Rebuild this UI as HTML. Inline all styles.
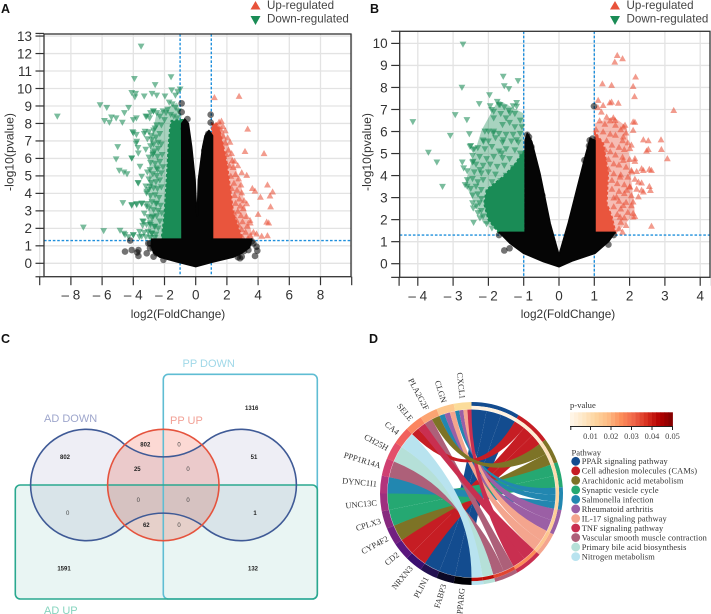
<!DOCTYPE html>
<html lang="en">
<head>
<meta charset="utf-8">
<title>Volcano plots, Venn diagram and chord diagram</title>
<style>
html,body{margin:0;padding:0;background:#fff;width:711px;height:614px;overflow:hidden}
svg{display:block}
text{font-family:"Liberation Sans",sans-serif}
.serif{font-family:"Liberation Serif",serif}
.mult{mix-blend-mode:multiply}
</style>
</head>
<body>
<svg id="fig" width="711" height="614" viewBox="0 0 711 614" xmlns="http://www.w3.org/2000/svg" style="filter:blur(.35px)">
<rect width="711" height="614" fill="#fff"/>
<text x="1" y="13" font-size="12.5" font-weight="bold" fill="#111">A</text>
<text x="370" y="13" font-size="12.5" font-weight="bold" fill="#111">B</text>
<text x="1" y="343" font-size="12.5" font-weight="bold" fill="#111">C</text>
<text x="369" y="343" font-size="12.5" font-weight="bold" fill="#111">D</text>

<g id="panelA"></g>
<g id="panelB"></g>

<g id="venn">
  <rect class="mult" x="15.3" y="485" width="302" height="114" rx="5" fill="#e9f5f3"/>
  <path class="mult" d="M124,444 A67,67 0 0 0 203,444 A55.7,55.7 0 1 1 203,526 A67,67 0 0 0 124,526 A55.7,55.7 0 1 1 124,444 Z" fill="#eeeef5"/>
  <circle class="mult" cx="163.3" cy="485" r="55.7" fill="#fcd9d4"/>
  <rect x="163.3" y="374.3" width="154" height="224.7" rx="5" fill="none" stroke="#5fbdd3" stroke-width="1.6"/>
  <rect x="15.3" y="485" width="302" height="114" rx="5" fill="none" stroke="#2aa88f" stroke-width="1.6"/>
  <path d="M124,444 A67,67 0 0 0 203,444 A55.7,55.7 0 1 1 203,526 A67,67 0 0 0 124,526 A55.7,55.7 0 1 1 124,444 Z" fill="none" stroke="#3f5a96" stroke-width="1.6"/>
  <circle cx="163.3" cy="485" r="55.7" fill="none" stroke="#e5533d" stroke-width="1.6"/>
  <text x="44" y="422" font-size="11" fill="#9ea6cc">AD DOWN</text>
  <text x="170" y="424" font-size="11" fill="#f2a196">PP UP</text>
  <text x="182.5" y="367" font-size="11" fill="#a0d8e8">PP DOWN</text>
  <text x="44" y="614" font-size="11" fill="#85d4be">AD UP</text>
  <g font-size="6" text-anchor="middle" font-weight="bold" fill="#222">
    <text x="251.7" y="410">1316</text>
    <text x="145.3" y="446.5">802</text>
    <text x="65" y="459">802</text>
    <text x="254" y="459">51</text>
    <text x="137.3" y="471">25</text>
    <text x="255" y="515">1</text>
    <text x="146.3" y="527">62</text>
    <text x="64" y="570.5">1591</text>
    <text x="253" y="570.5">132</text>
  </g>
  <g font-size="6" text-anchor="middle" fill="#444">
    <text x="179" y="446.5">0</text>
    <text x="188" y="471">0</text>
    <text x="138.3" y="502">0</text>
    <text x="188" y="502">0</text>
    <text x="67.7" y="515">0</text>
    <text x="179" y="527">0</text>
  </g>
</g>

<g id="chord"></g>
<g id="chordLegend"></g>
</svg>

<script>
// ===== Panel A data (log2 fold change, -log10 p) =====
const aXTicks = [-10,-8,-6,-4,-2,0,2,4,6,8,10];
const aYTicks = [0,1,2,3,4,5,6,7,8,9,10,11,12,13];
const aDownPoints = [[-3.5,12.4],[-3.93,10.55],[-1.58,10.65],[-2.6,10.2],[-1.0,9.95],[-1.54,9.9],[-1.15,9.8],[-4.1,9.75],[-3.85,9.7],[-2.8,9.7],[-2.5,9.6],[-1.97,9.55],[-3.3,9.55],[-3.9,9.5],[-1.3,9.6],
[-6.13,9.05],[-5.7,8.9],[-4.3,8.9],[-8.87,8.4],[-5.85,8.15],[-5.53,8.05],[-5.4,8.35],[-5.1,8.3],[-4.7,8.05],[-4.57,8.6],[-4,8.2],[-3.8,8.3],[-4.04,7.5],[-3.8,7.35],[-3.82,6.85],[-5,6.65],[-5.1,5.95],[-4.1,6],[-3.7,6.6],[-4.9,5.3],[-4.6,5.2],[-4.4,5.1],[-3.7,4.6],[-4.67,3.45],[-4.1,3.3],[-3.8,3.4],[-3.46,3.4],[-3.14,3.4],[-7.2,2.05],[-5.9,1.85],[-4.85,1.87],[-4.6,1.7],[-4,1.6],[-4.3,1.5],[-3.4,2.4],
[-2.9,8.6],[-2.7,8.7],[-2.5,8.6],[-3.2,8.4],[-2.95,8.3],[-2.3,8.4],[-2.1,8.7],[-1.9,8.6],[-1.7,9.2],[-1.5,9.1],[-1.3,8.9],[-1.1,8.7],[-1.8,8.8],[-1.6,8.5],[-1.4,8.4],[-1.2,8.3],[-2.0,8.2],[-2.2,7.9],[-2.5,7.9],[-2.7,7.6],[-3.0,7.5],[-3.3,7.4],[-2.85,7.3],[-2.55,7.2],[-2.3,7.4],[-3.1,7.1],[-2.4,6.9],[-2.7,6.8],[-2.9,6.7],[-3.2,6.5],[-2.65,6.4],[-2.4,6.55],[-2.2,6.8],[-2.75,6.2],[-2.45,6.1],[-2.15,6.2],[-3.0,6.05],[-2.9,5.75],[-2.6,5.7],[-2.3,5.8],[-2.1,5.5],[-2.45,5.35],[-3.1,5.2],[-2.75,5.1],[-2.5,5.0],[-2.2,5.15],[-3.0,4.8],[-2.85,4.6],[-2.55,4.65],[-2.3,4.75],[-3.2,4.4],[-3.0,4.2],[-2.7,4.3],[-2.45,4.25],[-2.2,4.35],[-3.15,4.0],[-2.9,3.85],[-2.6,3.9],[-2.35,3.75],[-2.8,3.5],[-2.55,3.4],[-2.25,3.3],[-3.0,3.15],[-2.7,3.05],[-2.4,3.0],[-3.3,2.85],[-3.05,2.65],[-2.8,2.6],[-2.5,2.7],[-2.3,2.4],[-3.4,2.15],[-3.15,2.2],[-2.9,2.2],[-2.65,2.1],[-2.4,2.0],[-3.6,1.8],[-3.3,1.75],[-3.05,1.8],[-2.8,1.7],[-2.55,1.65],[-3.2,1.5],[-2.9,1.45],[-2.6,1.45],[-3.6,1.5],
[-4.0,7.44],[-3.78,6.96],[-3.68,6.29],[-4.1,6.0],[-3.14,8.39],[-3.25,7.53],[-2.72,8.68],[-2.61,7.72],[-2.82,7.05],[-2.72,6.29],[-2.5,5.43],[-2.93,5.34],[-3.57,5.53],[-3.46,4.96],[-3.68,4.57],[-2.93,4.38],[-3.14,4.1],[-4.1,3.34],[-3.78,3.34],[-3.46,3.43],[-3.14,3.24],[-2.5,3.43],[-2.18,2.86],[-2.72,2.67],[-2.93,2.29],[-3.35,2.38],[-2.61,2.1],[-4.53,1.62],[-4.0,1.62],[-3.46,1.53],[-2.82,1.72]];
const aUpPoints = [[1.2,9.5],[2.78,9.57],[3.33,7.7],[3.16,6.42],[4.38,6.3],[2.95,5.2],[3.27,5.05],[4.6,4.5],[3.63,4.3],[3.8,4.15],[4.93,4.1],[4.15,3.8],[4.76,3.87],[4.8,3.25],[3.27,3.43],[4,2.82],[3.48,2.48],[3.5,2.33],[4.55,2.38],[4.68,2.33],[3.7,1.8],[4.23,1.57],[4.6,1.6],[3.9,1.7],
[1.5,8.1],[1.65,8.15],[1.35,7.9],[1.75,7.85],[1.9,7.6],[1.55,7.7],[2.05,7.2],[1.75,7.3],[2.2,6.95],[1.9,6.9],[1.65,6.75],[2.1,6.5],[2.3,6.3],[1.95,6.25],[2.35,5.9],[2.5,5.85],[2.15,5.6],[2.4,5.5],[2.7,5.6],[2.55,5.1],[2.25,5.0],[2.75,4.85],[2.45,4.6],[2.9,4.5],[2.3,4.3],[2.65,4.2],[2.95,4.05],[2.5,3.9],[2.8,3.7],[3.1,3.6],[2.55,3.45],[2.85,3.3],[3.05,3.15],[2.7,3.0],[2.45,2.9],[2.9,2.75],[3.25,2.7],[2.6,2.5],[3.0,2.4],[2.75,2.2],[3.3,2.15],[2.55,2.05],[2.95,1.95],[3.2,1.8],[2.7,1.7],[3.5,1.6],[3.0,1.5],[2.6,1.5],[3.35,1.45]];
const aDenseDown = [[-0.85,1.3],[-2.2,1.3],[-2.0,2.8],[-1.86,4.77],[-1.75,6.5],[-1.65,7.63],[-1.55,8.15],[-0.85,8.2]];
const aDenseUp = [[1.05,1.3],[3.05,1.3],[2.75,2],[2.4,2.9],[2.25,4],[2.0,5.7],[1.55,7.6],[1.3,8],[1.05,8]];
const aHazeDown = [[-2.0,1.35],[-3.1,1.4],[-3.0,3],[-3.0,5],[-2.9,7],[-2.5,8.6],[-1.2,9.2],[-0.9,8.5]];
const aHazeUp = [[1.05,7.9],[1.6,8.1],[2.3,6.2],[2.9,4.5],[3.3,2.7],[3.7,1.4],[1.05,1.35]];
const aBlackBody = [[-2.82,1.38],[-0.88,1.38],[-0.9,8.0],[-0.7,8.25],[-0.47,8.0],[-0.26,6.67],[-0.04,4.77],[0.06,2.9],[0.1,2.7],[0.17,4.77],[0.45,6.67],[0.6,7.3],[0.85,7.6],[1.08,7.3],[1.08,1.38],[3.6,1.38],[3.45,0.9],[2.9,0.55],[2.4,0.35],[1.13,0.08],[0,-0.19],[-1.2,0.08],[-2.3,0.35],[-2.7,0.6],[-2.85,1.0]];
const aGreyPoints = [[-4.2,1.3],[-4.53,0.67],[-4.1,0.76],[-3.67,0.76],[-3.75,0.62],[-3.67,0.42],[-3.14,0.57],[-2.7,0.38],[-2.93,1.14],[-2.75,0.9],[-2.07,0.2],[-2.55,0.7],[3.9,0.95],[3.8,0.42],[3.95,0.72],[2.95,0.38],[3.38,1.14],[3.6,1.25],[3.1,0.7],[2.7,0.35],[-0.9,9.15],[-0.9,8.65],[-0.53,8.25],[-0.58,7.44],[0.96,8.5],[0.96,8.05],[0.8,7.4],[-0.75,7.7],[0.55,6.45],[-3.04,1.14],[-2.93,0.86],[-2.5,0.57],[2.84,0.29],[3.38,0.76],[3.7,1.14]];

// ===== Panel B data =====
const bXTicks = [-4,-3,-2,-1,0,1,2,3,4];
const bYTicks = [0,1,2,3,4,5,6,7,8,9,10];
const bDownPoints = [[-2.72,9.95],[-1.58,8.49],[-1.16,8.29],[-2.75,7.99],[-1.55,8.06],[-1.42,7.93],[-1.97,7.65],[-2.26,7.25],[-2.94,6.75],[-2.61,6.52],[-4.14,6.43],[-3.08,5.81],[-2.54,5.88],[-3.7,5.04],[-3.46,4.6],[-2.74,4.6],[-2.7,4.33],[-3.3,3.49],[-2.42,1.86],
[-1.75,7.35],[-1.7,7.2],[-1.95,7.15],[-1.55,7.1],[-1.3,7.15],[-1.2,7.3],[-1.42,6.95],[-1.85,6.9],[-1.65,6.8],[-1.25,6.8],[-1.85,6.6],[-1.5,6.6],[-1.4,6.4],[-1.1,6.5],[-1.6,6.3],[-1.25,6.2],[-1.05,6.2],[-2.0,6.0],[-1.85,6.0],[-1.7,5.9],[-1.5,5.85],[-1.3,5.85],[-1.1,5.9],[-2.15,5.6],[-2.0,5.55],[-1.8,5.7],[-1.6,5.5],[-1.35,5.55],[-1.15,5.5],[-2.5,5.35],[-2.4,5.2],[-2.3,5.25],[-2.1,5.2],[-1.9,5.3],[-1.7,5.1],[-1.5,5.2],[-1.25,5.15],[-1.1,5.0],[-2.45,4.9],[-2.25,4.85],[-2.05,4.75],[-1.85,4.85],[-1.6,4.8],[-1.4,4.75],[-2.45,4.6],[-2.35,4.5],[-2.15,4.45],[-1.95,4.5],[-1.75,4.4],[-1.55,4.45],[-1.3,4.35],[-2.6,4.2],[-2.4,4.15],[-2.2,4.1],[-2.0,4.15],[-1.8,4.05],[-1.5,4.0],[-2.6,3.8],[-2.45,3.85],[-2.3,3.7],[-2.15,3.8],[-1.9,3.7],[-1.65,3.75],[-2.6,3.5],[-2.5,3.4],[-2.35,3.5],[-2.2,3.35],[-2.45,3.1],[-2.3,3.15],[-2.2,2.95],[-2.45,2.75],[-2.35,2.6],[-2.25,2.75],[-2.3,2.3],[-2.2,2.4],[-2.15,2.15],[-2.05,1.8],[-1.9,1.6],
[-2.43,5.16],[-2.52,5.31],[-1.91,6.98],[-1.67,7.2],[-1.39,6.83],[-1.2,7.13],[-2.1,6.0],[-1.86,5.92],[-1.58,5.61],[-1.2,5.61],[-2.14,5.54],[-1.62,5.01],[-2.43,4.63],[-2.24,4.25],[-2.66,3.57],[-2.43,2.51],[-2.24,2.06]];
const bUpPoints = [[1.65,9.47],[1.8,9.32],[1.58,9.17],[2.17,8.49],[1.23,8.18],[1.49,8.11],[2.1,8.06],[2.14,7.6],[1.11,7.43],[1.49,7.35],[1.44,7.32],[1.68,7.3],[3.25,6.97],[1.2,6.9],[1.35,6.67],[1.54,6.64],[2.15,6.44],[1.87,6.3],[2.1,6.07],[2.39,5.64],[2.89,5.64],[2.53,5.6],[2.9,5.2],[2.53,5.2],[2.48,5.13],[3.07,4.78],[2.15,4.66],[2.39,4.25],[2.62,4.25],[2.56,4.3],[2.34,3.68],[2.56,3.52],[2.59,3.34],[2.39,3.27],[2.15,2.16],[2.62,1.72],
[1.1,7.1],[1.25,7.2],[1.15,6.5],[1.3,6.35],[1.45,6.5],[1.6,6.3],[1.75,6.1],[1.9,5.95],[1.05,6.1],[1.25,6.0],[1.45,5.9],[1.6,5.85],[1.8,5.6],[1.95,5.5],[1.35,5.6],[1.5,5.4],[1.7,5.3],[1.85,5.2],[2.05,5.4],[1.3,5.2],[1.45,5.1],[1.6,4.95],[1.8,4.85],[2.0,4.75],[1.4,4.75],[1.55,4.55],[1.7,4.5],[1.9,4.4],[2.05,4.25],[2.2,4.2],[1.4,4.3],[1.55,4.1],[1.75,4.05],[1.95,3.95],[2.15,3.85],[1.5,3.8],[1.65,3.65],[1.85,3.6],[2.0,3.5],[2.2,3.4],[1.5,3.4],[1.7,3.3],[1.85,3.2],[2.05,3.1],[2.25,3.05],[1.55,3.0],[1.7,2.85],[1.9,2.8],[2.05,2.65],[1.55,2.6],[1.75,2.5],[1.95,2.35],[2.1,2.3],[1.65,2.25],[1.85,2.1],[1.75,1.9],[1.9,1.75],[1.7,1.6],[1.8,1.45],
[1.59,6.52],[1.82,6.22],[2.1,6.45],[1.82,5.77],[2.01,5.24],[2.15,4.78],[2.34,4.33],[2.06,4.18],[2.25,3.72],[1.82,4.71],[1.73,3.95],[1.92,3.35],[2.1,2.82],[1.82,2.66],[2.1,2.13],[1.73,2.13],[1.63,3.04],[2.34,3.35],[2.01,3.5]];
const bDenseDown = [[-0.98,1.4],[-1.7,1.4],[-2.0,2.0],[-2.12,2.74],[-2.05,3.35],[-1.58,3.95],[-1.25,4.5],[-1.05,5.0],[-0.98,5.1]];
const bDenseUp = [[1.02,1.4],[1.6,1.4],[1.5,2.1],[1.35,2.74],[1.39,4.1],[1.25,5.46],[1.02,5.95]];
const bHazeDown = [[-1.72,7.43],[-1.01,6.83],[-1.01,1.4],[-2.14,1.83],[-2.66,3.65],[-2.43,4.86],[-2.19,6.07]];
const bHazeUp = [[1.02,6.37],[1.54,6.67],[1.92,6.22],[2.01,4.4],[2.15,2.29],[1.63,1.38],[1.02,1.38]];
const bBlackBody = [[-1.69,1.42],[-0.96,1.42],[-0.96,5.6],[-0.9,5.92],[-0.77,5.54],[-0.54,4.1],[-0.25,1.83],[0,0.39],[0.26,1.83],[0.5,3.35],[0.74,4.86],[0.88,5.68],[1.02,5.6],[1.02,1.42],[1.59,1.42],[1.4,1.0],[1.02,0.47],[0.4,0.14],[0,-0.14],[-0.44,0.09],[-1,0.47],[-1.39,0.93]];
const bGreyPoints = [[-1.55,0.6],[-1.4,0.7],[-0.78,5.3],[-0.9,5.85],[-0.85,5.75],[-0.65,4.3],[-0.7,4.35],[-0.47,3.1],[0.99,7.15],[0.95,5.68],[0.87,5.6],[0.85,5.35],[0.72,4.7],[1.4,0.87],[1.55,1.3],[-1.7,1.3]];

// ===== Panel D data =====
const geneNames = ["PPARG","FABP3","PLIN1","NRXN3","CD2","CYP4F2","CPLX3","UNC13C","DYNC1I1","PPP1R14A","CH25H","CA4","SELE","PLA2G2F","CLGN","CXCL1"];
const geneColors = ["#000004","#0c0926","#231151","#3b0f70","#5a167e","#721f81","#87297f","#9e2f7f","#b2347c","#cf4071","#e34f6a","#f1605d","#fb8560","#fca472","#fdc78d","#fbdc9a"];
const pathwayNames = ["PPAR signaling pathway","Cell adhesion molecules (CAMs)","Arachidonic acid metabolism","Synaptic vesicle cycle","Salmonella infection","Rheumatoid arthritis","IL-17 signaling pathway","TNF signaling pathway","Vascular smooth muscle contraction","Primary bile acid biosynthesis","Nitrogen metabolism"];
const pathwayColors = ["#134c8f","#c61d24","#7d7326","#25a872","#2287b0","#9b5fa5","#f4a58e","#c92f50","#ad6079","#b5e0d8","#b8e3ef"];
const pathwayShares = [31,23,16,16,14.5,16,15.5,18,15,7.5,7.5];
const pathwayPvalues = [0.002,0.004,0.008,0.010,0.012,0.014,0.016,0.025,0.035,0.042,0.042];
const linkGenes =    [0,1,2,3,4,5,6,7,8,9,10,11,13,14,14,14,15,15,15,15,12,12,13];
const linkPathways = [0,0,0,1,1,2,3,3,4,8,9,10,8,4,5,6,4,5,6,7,1,7,2];
const pTickValues = [0.01,0.02,0.03,0.04,0.05];
const pScaleStops = ["#fff7ec","#fee8c8","#fdd49e","#fdbb84","#fc8d59","#ef6548","#d7301f","#b30000","#7f0000"];

const NS = "http://www.w3.org/2000/svg";
function add(parent, tag, attrs, txt){
  const el = document.createElementNS(NS, tag);
  for(const k in attrs) el.setAttribute(k, attrs[k]);
  if(txt!==undefined) el.textContent = txt;
  parent.appendChild(el);
  return el;
}
function poly(pts){ return pts.map(p=>p[0].toFixed(2)+","+p[1].toFixed(2)).join(" "); }

function drawVolcano(root, cfg){
  const sx = v => cfg.x0 + v*cfg.kx;
  const sy = v => cfg.y0 - v*cfg.ky;
  const ink = "#333";
  // grid
  cfg.xTicks.forEach(v=>{
    const l = add(root,"line",{x1:sx(v),x2:sx(v),y1:cfg.top,y2:cfg.bottom,stroke:"#e3e3e3","stroke-width":1.3});
    
    
  });
  cfg.yTicks.forEach(v=>{
    const l = add(root,"line",{x1:cfg.left,x2:cfg.right,y1:sy(v),y2:sy(v),stroke:"#e3e3e3","stroke-width":1.3});
    
    
  });
  // thresholds
  [-1,1].forEach(v=>{
    const l = add(root,"line",{x1:sx(v),x2:sx(v),y1:cfg.top,y2:cfg.bottom,stroke:"#1e8fdc","stroke-width":1.4,"stroke-dasharray":"2.6 1.8"});
    
    
  });
  const th = add(root,"line",{x1:cfg.left,x2:cfg.right,y1:sy(1.3),y2:sy(1.3),stroke:"#1e8fdc","stroke-width":1.4,"stroke-dasharray":"2.6 1.8"});
  
  
  // haze of overlapping markers
  const hd = add(root,"polygon",{points:poly(cfg.hazeDown.map(p=>[sx(p[0]),sy(p[1])])),fill:"#1a8c56","fill-opacity":0.38});
  
  
  const hu = add(root,"polygon",{points:poly(cfg.hazeUp.map(p=>[sx(p[0]),sy(p[1])])),fill:"#e8523a","fill-opacity":0.38});
  
  
  // scatter
  const s = 3.4;
  cfg.down.forEach(p=>{
    const x=sx(p[0]), y=sy(p[1]);
    const m = add(root,"polygon",{points:poly([[x-s,y-s*0.85],[x+s,y-s*0.85],[x,y+s*0.95]]),fill:"#1a8c56","fill-opacity":0.58});
    
    
  });
  cfg.up.forEach(p=>{
    const x=sx(p[0]), y=sy(p[1]);
    const m = add(root,"polygon",{points:poly([[x-s,y+s*0.85],[x+s,y+s*0.85],[x,y-s*0.95]]),fill:"#e8523a","fill-opacity":0.58});
    
    
  });
  const dd = add(root,"polygon",{points:poly(cfg.denseDown.map(p=>[sx(p[0]),sy(p[1])])),fill:"#1a8c56",stroke:"#1a8c56","stroke-width":2,"stroke-dasharray":"3 2"});
  
  
  const du = add(root,"polygon",{points:poly(cfg.denseUp.map(p=>[sx(p[0]),sy(p[1])])),fill:"#e9553d",stroke:"#e9553d","stroke-width":2,"stroke-dasharray":"3 2"});
  
  
  cfg.grey.forEach(p=>{
    const m = add(root,"circle",{cx:sx(p[0]),cy:sy(p[1]),r:3.3,fill:"#000","fill-opacity":0.55});
    
    
  });
  const bb = add(root,"polygon",{points:poly(cfg.body.map(p=>[sx(p[0]),sy(p[1])])),fill:"#050505",stroke:"#050505","stroke-width":1.5,"stroke-linejoin":"round"});
  
  
  // frame
  const fr = add(root,"rect",{x:cfg.left,y:cfg.top,width:cfg.right-cfg.left,height:cfg.bottom-cfg.top,fill:"none",stroke:ink,"stroke-width":1.3});
  
  
  // ticks
  const tickX = cfg.xTicks.concat(cfg.xEdge);
  tickX.forEach(v=>{
    const l = add(root,"line",{x1:sx(v),x2:sx(v),y1:cfg.bottom,y2:cfg.bottom+8.5,stroke:ink,"stroke-width":1.2});
    
    
  });
  cfg.xTicks.filter(v=>Math.abs(v)<=cfg.xLabelMax).forEach(v=>{
    const t = add(root,"text",{x:sx(v),y:cfg.bottom+23,"font-size":13.5,"text-anchor":"middle",fill:ink}, (v<0?"\u2013 ":"")+Math.abs(v));
    
    
  });
  cfg.yTicks.concat([cfg.yLow, cfg.yHigh]).forEach(v=>{
    const l = add(root,"line",{x1:cfg.left-8.5,x2:cfg.left,y1:sy(v),y2:sy(v),stroke:ink,"stroke-width":1.2});
    
    
  });
  cfg.yTicks.forEach(v=>{
    const t = add(root,"text",{x:cfg.left-12,y:sy(v)+4.8,"font-size":13.5,"text-anchor":"end",fill:ink}, String(v));
    
    
  });
  const xt = add(root,"text",{x:cfg.xTitleX,y:318,"font-size":11.8,"text-anchor":"middle",fill:ink},"log2(FoldChange)");
  
  
  const yt = add(root,"text",{x:0,y:0,"font-size":12.2,"text-anchor":"middle",fill:ink,transform:`translate(${cfg.yTitleX},${cfg.yTitleY}) rotate(-90)`},"-log10(pvalue)");
  
  
  // legend
  const lx = cfg.legX;
  const u = add(root,"polygon",{points:poly([[lx-5,9.5],[lx+5,9.5],[lx,1]]),fill:"#e8523a"});
  
  
  const ut = add(root,"text",{x:lx+11.5,y:8.8,"font-size":11.6,fill:"#444"},"Up-regulated");
  
  
  const d = add(root,"polygon",{points:poly([[lx-5,16],[lx+5,16],[lx,25]]),fill:"#1a8c56"});
  
  
  const dt = add(root,"text",{x:lx+11.5,y:22.6,"font-size":11.6,fill:"#444"},"Down-regulated");
  
  
}

drawVolcano(document.getElementById("panelA"),{
  x0:195.7,kx:15.6,y0:263.3,ky:17.48,left:44,right:351,top:34,bottom:276.7,
  xTicks:aXTicks,yTicks:aYTicks,xEdge:[],xLabelMax:8,yLow:-0.77,yHigh:13.15,
  down:aDownPoints,up:aUpPoints,denseDown:aDenseDown,denseUp:aDenseUp,hazeDown:aHazeDown,hazeUp:aHazeUp,body:aBlackBody,grey:aGreyPoints,
  xTitleX:178,yTitleX:13.5,yTitleY:152,legX:255.5
});
drawVolcano(document.getElementById("panelB"),{
  x0:559,kx:35.3,y0:263.7,ky:22.03,left:399.7,right:710,top:31.3,bottom:277.3,
  xTicks:bXTicks,yTicks:bYTicks,xEdge:[-4.53,4.32],xLabelMax:4,yLow:-0.62,yHigh:10.55,
  down:bDownPoints,up:bUpPoints,denseDown:bDenseDown,denseUp:bDenseUp,hazeDown:bHazeDown,hazeUp:bHazeUp,body:bBlackBody,grey:bGreyPoints,
  xTitleX:568,yTitleX:371,yTitleY:152,legX:615
});

// ===== Chord =====
(function(){
  const root = document.getElementById("chord");
  const cx=471.5, cy=493.5, R=91.5;
  const rad = a => a*Math.PI/180;
  const pt = (a,r) => [cx+r*Math.sin(rad(a)), cy-r*Math.cos(rad(a))];
  function band(a0,a1,r0,r1){
    const p=pt(a0,r1), q=pt(a1,r1), s=pt(a1,r0), t=pt(a0,r0), lg=(a1-a0)>180?1:0;
    return `M${p} A${r1},${r1} 0 ${lg} 1 ${q} L${s} A${r0},${r0} 0 ${lg} 0 ${t} Z`;
  }
  function pScale(p){
    const f = Math.min(1,Math.max(0,p/0.05))*(pScaleStops.length-1);
    const i = Math.min(pScaleStops.length-2,Math.floor(f)), t=f-i;
    const h = s=>[1,3,5].map(k=>parseInt(s.substr(k,2),16));
    const a=h(pScaleStops[i]), b=h(pScaleStops[i+1]);
    return `rgb(${a.map((v,k)=>Math.round(v+(b[k]-v)*t)).join(",")})`;
  }
  window.pScale = pScale;
  const gSpan = 180/geneNames.length;
  const rIn = 84;
  const pathStart=[]; let acc=0;
  pathwayShares.forEach((s,i)=>{pathStart[i]=acc; acc+=s;});
  const shareTotal = acc;
  const pK = 180/shareTotal;
  const gCount = geneNames.map((_,i)=>linkGenes.filter(g=>g===i).length);
  const pUsed = pathwayNames.map(()=>0), pCount = pathwayNames.map((_,i)=>linkPathways.filter(g=>g===i).length);
  const order = linkGenes.map((_,i)=>i);
  const byGene = {};
  order.forEach(i=>{(byGene[linkGenes[i]]=byGene[linkGenes[i]]||[]).push(i);});
  const ribbons = order.map(i=>{
    const g=linkGenes[i], p=linkPathways[i];
    const gi = byGene[g].indexOf(i);
    const ga0 = 180+g*gSpan+gi*gSpan/gCount[g], ga1 = ga0+gSpan/gCount[g];
    const pi = pUsed[p]++;
    const w = pathwayShares[p]*pK/pCount[p];
    const pa1 = (pathStart[p]+pathwayShares[p])*pK - pi*w, pa0 = pa1-w;
    return {g,p,ga0,ga1,pa0,pa1};
  });
  ribbons.forEach(r=>{
    const a=pt(r.ga0,rIn), b=pt(r.ga1,rIn), c=pt(r.pa0,rIn), d=pt(r.pa1,rIn);
    const dpath = `M${a} A${rIn},${rIn} 0 0 1 ${b} Q${cx},${cy} ${c} A${rIn},${rIn} 0 0 1 ${d} Q${cx},${cy} ${a} Z`;
    const e = add(root,"path",{d:dpath,fill:pathwayColors[r.p]});
    
    
  });
  geneNames.forEach((n,i)=>{
    const a0=180+i*gSpan, a1=a0+gSpan;
    const e = add(root,"path",{d:band(a0,a1,rIn+0.3,R),fill:geneColors[i]});
    
    
    const m=(a0+a1)/2, p=pt(m,R+3.5);
    const rot = Math.atan2(Math.cos(rad(m)),-Math.sin(rad(m)))*180/Math.PI;
    const t = add(root,"text",{class:"serif",x:0,y:0,"font-size":8.4,fill:"#333","text-anchor":"end",transform:`translate(${p[0].toFixed(2)},${p[1].toFixed(2)}) rotate(${rot.toFixed(2)}) translate(0,2.6)`},n);
    
    
  });
  pathwayNames.forEach((n,i)=>{
    const a0=pathStart[i]*pK, a1=a0+pathwayShares[i]*pK;
    const e = add(root,"path",{d:band(a0,a1,87.6,R),fill:pathwayColors[i]});
    
    
    const e2 = add(root,"path",{d:band(a0,a1,84.3,87.6),fill:pScale(pathwayPvalues[i])});
    
    
  });
})();

// ===== Chord legend =====
(function(){
  const root = document.getElementById("chordLegend");
  const t0 = add(root,"text",{class:"serif",x:570,y:408,"font-size":8.6,fill:"#333"},"p-value");
  
  
  const bx=570, bw=102.5, by=412.3, bh=13.7, sx=p=>bx+(p/0.05)*bw;
  for(let i=0;i<25;i++){
    const r = add(root,"rect",{x:bx+i*bw/25,y:by,width:bw/25+0.4,height:bh,fill:window.pScale((i+0.5)/25*0.05)});
    
    
  }
  const base = add(root,"line",{x1:bx,x2:bx+bw,y1:by+bh+0.5,y2:by+bh+0.5,stroke:"#222","stroke-width":1});
  
  
  const t1 = add(root,"line",{x1:bx+0.8,x2:bx+0.8,y1:by+bh,y2:by+bh+4,stroke:"#222","stroke-width":1});
  
  
  pTickValues.forEach(v=>{
    const l = add(root,"line",{x1:sx(v),x2:sx(v),y1:by+bh,y2:by+bh+4,stroke:"#222","stroke-width":1});
    
    
    const t = add(root,"text",{class:"serif",x:sx(v),y:439,"font-size":8.4,"text-anchor":"middle",fill:"#444"},v.toFixed(2));
    
    
  });
  const t2 = add(root,"text",{class:"serif",x:571.5,y:455.5,"font-size":8.6,fill:"#333"},"Pathway");
  
  
  pathwayNames.forEach((n,i)=>{
    const y = 461.3+i*9.53;
    const c = add(root,"circle",{cx:575.7,cy:y,r:4.4,fill:pathwayColors[i]});
    
    
    const t = add(root,"text",{class:"serif",x:581.7,y:y+2.9,"font-size":8.4,fill:"#333","letter-spacing":"0.12"},n);
    
    
  });
})();
</script>
</body>
</html>
